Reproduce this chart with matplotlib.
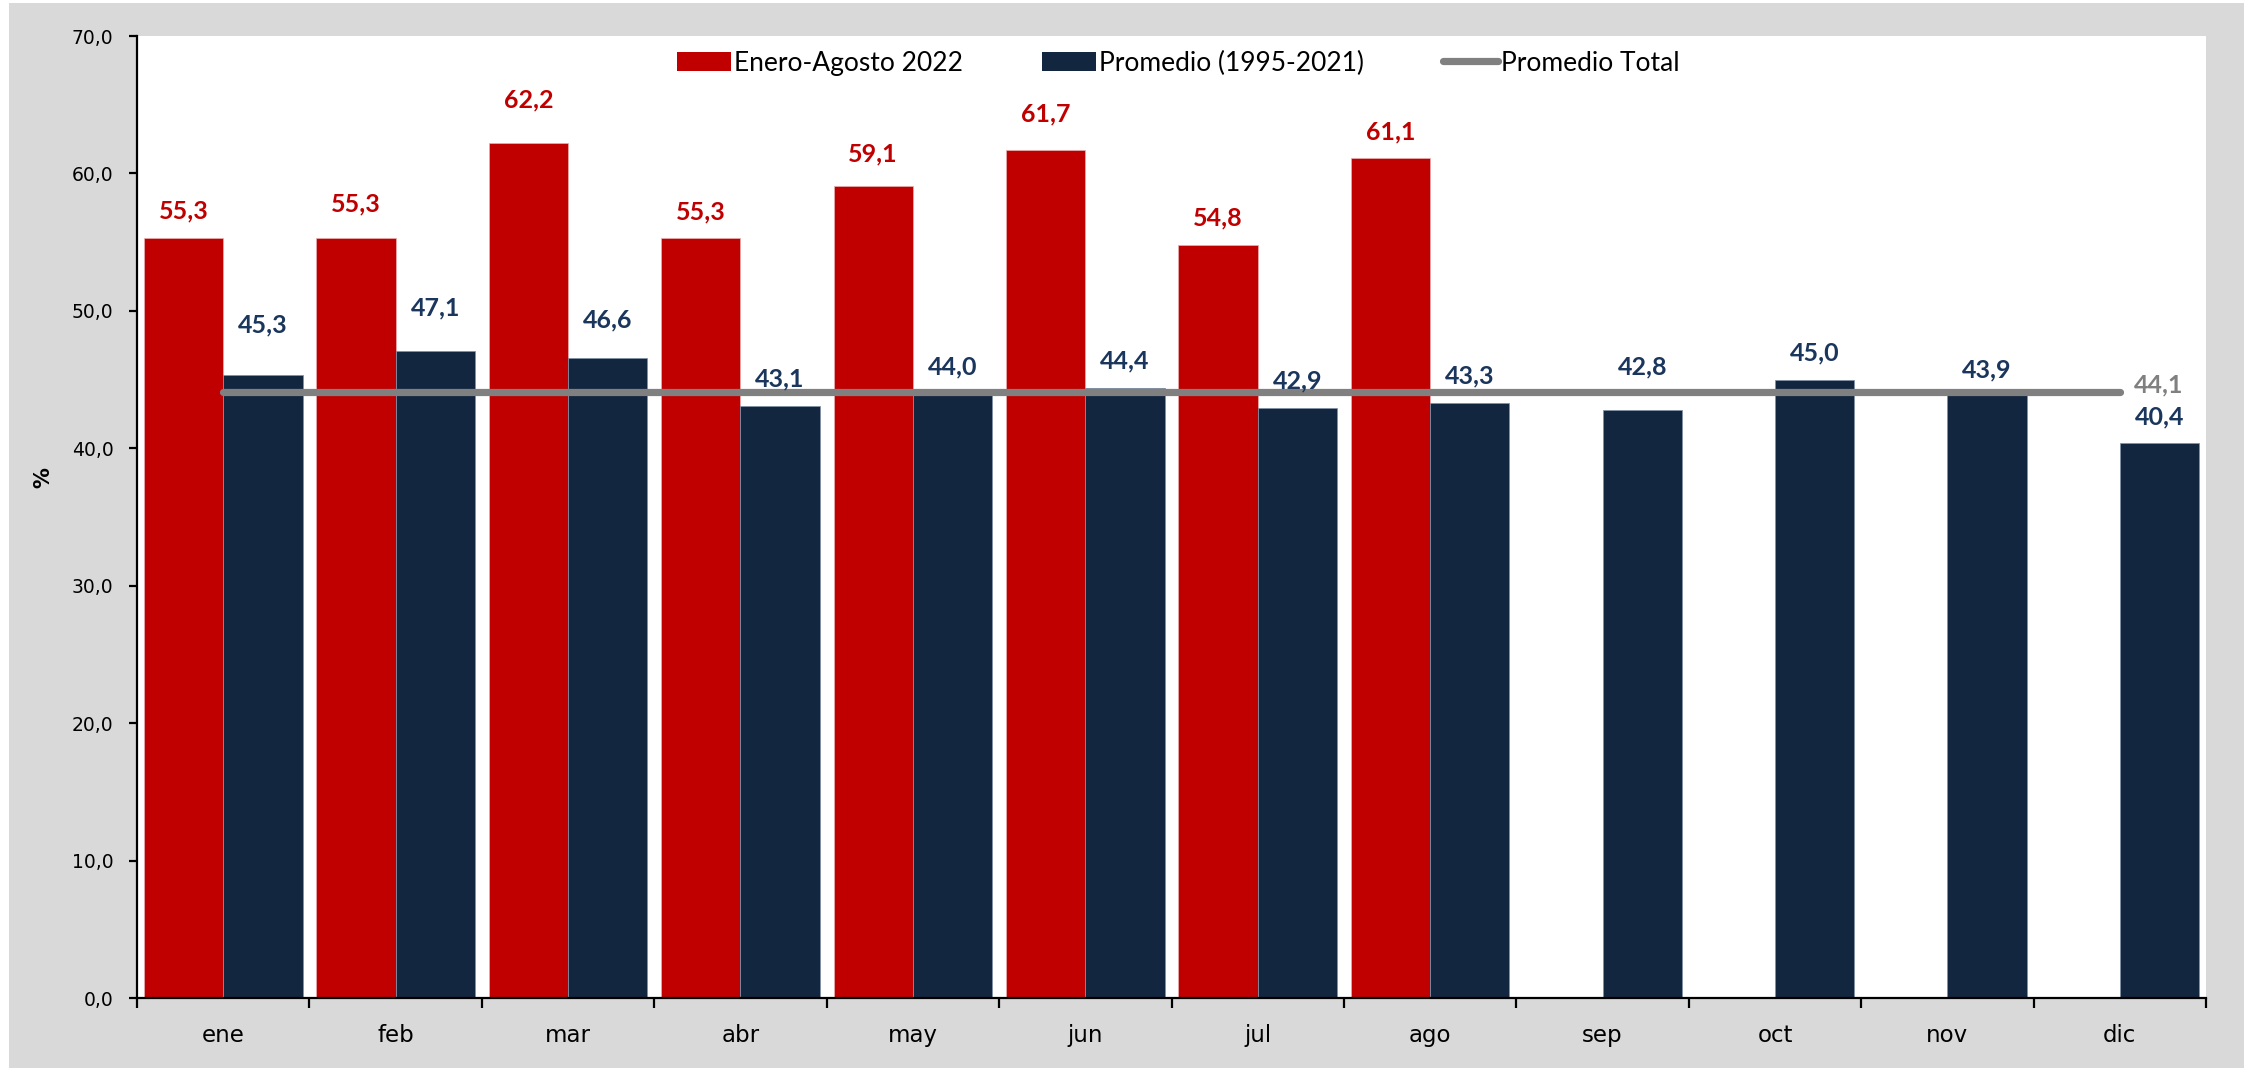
import matplotlib
matplotlib.use("Agg")
import matplotlib.pyplot as plt
from matplotlib.patches import Rectangle, Patch
from matplotlib.lines import Line2D
from matplotlib.ticker import FixedLocator, FuncFormatter
import numpy as np

# ---- data ----
months = ["ene", "feb", "mar", "abr", "may", "jun", "jul", "ago", "sep", "oct", "nov", "dic"]
ene_ago_2022 = [55.3, 55.3, 62.2, 55.3, 59.1, 61.7, 54.8, 61.1]
promedio_1995_2021 = [45.3, 47.1, 46.6, 43.1, 44.0, 44.4, 42.9, 43.3, 42.8, 45.0, 43.9, 40.4]
promedio_total = [44.1, 44.1, 44.1, 44.1, 44.1, 44.1, 44.1, 44.1, 44.1, 44.1, 44.1, 44.1]
y_ticks = [0, 10, 20, 30, 40, 50, 60, 70]

series_names = ["Enero-Agosto 2022", "Promedio (1995-2021)", "Promedio Total"]

# label lift above each bar top (pixels)
red_label_lift = [27, 34, 43, 26, 32, 36, 27, 26]
blue_label_lift = [51, 43, 38, 27, 26, 27, 28, 27, 43, 27, 25, 26]

RED = "#C00000"
NAVY = "#12263F"
NAVY_TXT = "#1B365D"
GRAY = "#808080"
BG = "#D9D9D9"

W, H, DPI = 2244, 1068, 100
fig = plt.figure(figsize=(W / DPI, H / DPI), dpi=DPI)
fig.patch.set_facecolor("white")
fig.add_artist(Rectangle((9 / W, 0), 1 - 9 / W, 1 - 3 / H, transform=fig.transFigure,
                         facecolor=BG, edgecolor="none", zorder=-10))

left, right = 137 / W, 2206 / W
bottom, top = 1 - 998 / H, 1 - 36 / H
ax = fig.add_axes([left, bottom, right - left, top - bottom])
ax.set_facecolor("white")

x = np.arange(len(months))
bw = 0.46
x_red = x[:len(ene_ago_2022)]

ax.bar(x_red - bw / 2, ene_ago_2022, width=bw, color=RED,
       edgecolor="#E8B0B0", linewidth=0.5, zorder=2)
ax.bar(x + bw / 2, promedio_1995_2021, width=bw, color=NAVY,
       edgecolor="#8090A8", linewidth=0.5, zorder=2)
ax.plot(x, promedio_total, color=GRAY, linewidth=5.2, solid_capstyle="round", zorder=3)

label_font = dict(family=["Lato", "DejaVu Sans"], fontweight="bold", fontsize=18)

def fmt(v):
    return f"{v:.1f}".replace(".", ",")

for xi, v, lift in zip(x_red - bw / 2, ene_ago_2022, red_label_lift):
    ax.annotate(fmt(v), (xi, v), xytext=(0, lift), textcoords="offset pixels",
                ha="center", va="center", color=RED, zorder=5, **label_font)
for xi, v, lift in zip(x + bw / 2, promedio_1995_2021, blue_label_lift):
    ax.annotate(fmt(v), (xi, v), xytext=(0, lift), textcoords="offset pixels",
                ha="center", va="center", color=NAVY_TXT, zorder=5, **label_font)
ax.annotate(fmt(promedio_total[-1]), (x[-1], promedio_total[-1]), xytext=(39, 7),
            textcoords="offset pixels", ha="center", va="center", color=GRAY,
            zorder=5, **label_font)

# axes
ax.set_xlim(-0.5, len(months) - 0.5)
ax.set_ylim(0, 70)
for s in ["top", "right"]:
    ax.spines[s].set_visible(False)
for s in ["left", "bottom"]:
    ax.spines[s].set_color("black")
    ax.spines[s].set_linewidth(1.6)

ax.yaxis.set_major_locator(FixedLocator(y_ticks))
ax.yaxis.set_major_formatter(FuncFormatter(lambda v, p: fmt(v)))
ax.tick_params(axis="y", which="major", direction="out", length=6, width=1.6,
               pad=11, labelsize=13.5, colors="black")

ax.xaxis.set_major_locator(FixedLocator(np.arange(-0.5, len(months), 1.0)))
ax.xaxis.set_major_formatter(FuncFormatter(lambda v, p: ""))
ax.set_xticks(x, minor=True)
ax.set_xticklabels(months, minor=True)
ax.tick_params(axis="x", which="major", direction="out", length=7, width=1.6)
ax.tick_params(axis="x", which="minor", length=0, pad=19, labelsize=16.5)
for lbl in ax.get_xticklabels(minor=True) + ax.get_yticklabels():
    lbl.set_family(["DejaVu Sans"])

ax.set_ylabel("%", fontsize=15, fontweight="bold", family=["DejaVu Sans"])
ax.yaxis.set_label_coords((53 - 137) / (2206 - 137), (998 - 478) / (998 - 36))

handles = [Patch(facecolor=RED, edgecolor="none"),
           Patch(facecolor=NAVY, edgecolor="none"),
           Line2D([0], [0], color=GRAY, linewidth=5.2, solid_capstyle="round")]
ax.legend(handles, series_names, loc="center",
          bbox_to_anchor=((1178 - 137) / (2206 - 137), 1 - (63 - 36) / (998 - 36)),
          ncol=3, frameon=False, handlelength=2.05, handleheight=0.75, handletextpad=0.12,
          columnspacing=3.0, prop=dict(family=["Lato", "DejaVu Sans"], size=19))

fig.savefig("out.png", dpi=DPI, facecolor=fig.get_facecolor())
